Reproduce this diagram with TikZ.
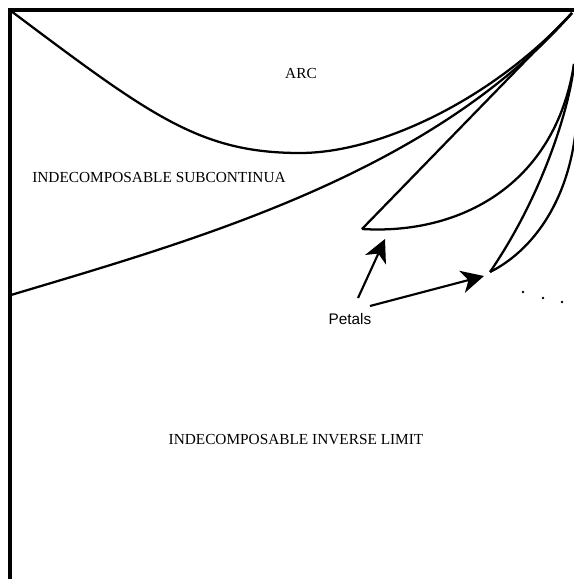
\documentclass[tikz,border=0pt]{standalone}
\usepackage{fontspec}
\setmainfont{Liberation Serif}
\newfontfamily\petalfont{Liberation Sans}
\usetikzlibrary{arrows.meta, positioning}
\tikzset{
    % Label styles
    region/.style={
        font=\fontsize{11.5}{14}\selectfont,
        inner sep=0pt
    },
    petallabel/.style={
        font=\petalfont\fontsize{11.5}{14}\selectfont,
        inner sep=0pt
    },
    % Line styles
    borderline/.style={
        line width=3.2pt,
        line join=miter
    },
    branch/.style={
        line width=1.7pt,
        line join=round
    },
    arrow/.style={
        -{Stealth[length=17pt, width=17pt, inset=5pt]},
        line width=1.6pt
    }
}

\begin{document}
\begin{tikzpicture}[x=0.75pt, y=-0.75pt]
    \useasboundingbox (0,0) rectangle (574,579);

    % corner points
    \coordinate (corner) at (10,10);
    \coordinate (top) at (572,13);
    \coordinate (bottom) at (300,153);
    \coordinate (tipA) at (362,229);
    \coordinate (tipB) at (490,272);
    \coordinate (meet) at (574,64);
    \coordinate (headA) at (385,239);
    \coordinate (headB) at (484,276);

    % border
    \draw[borderline] (575,10) -- (corner) -- (10,580);

    % arc and subcontinua
    \draw[branch] (11,11) .. controls (151,116) and (200,153) .. (bottom)
        .. controls (380,153) and (493,99) .. (top);
    \draw[branch] (11,295) .. controls (191,241) and (430,175) .. (top);

    % petals
    \draw[branch] (top) -- (tipA);
    \draw[branch] (tipA) .. controls (460,235) and (555,185) .. (meet);
    \draw[branch] (tipB) .. controls (546,190) and (571,100) .. (meet);
    \draw[branch] (tipB) .. controls (530,252) and (568,205) .. (576,128);

    % labels
    \node[region] (arc) at (301,73) {ARC};
    \node[region, anchor=west] (subcont) at (32,177) {INDECOMPOSABLE SUBCONTINUA};
    \node[region] (limit) at (296,440) {INDECOMPOSABLE INVERSE LIMIT};
    \node[petallabel] (petals) at (350,319) {Petals};

    \coordinate (startA) at (358,298);
    \coordinate (startB) at (370,306);
    \draw[arrow] (startA) -- (headA);
    \draw[arrow] (startB) -- (headB);

    % more petals
    \foreach \px/\py [count=\i] in {523/292, 543/298, 562/302}
        \fill (\px,\py) circle[radius=1.3] coordinate (dot\i);
\end{tikzpicture}
\end{document}
